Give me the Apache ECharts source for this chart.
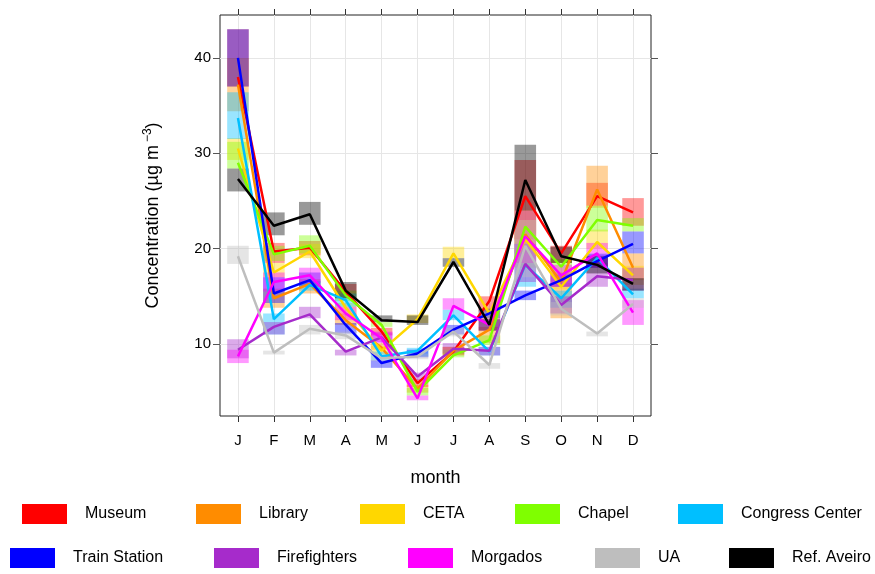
<!DOCTYPE html>
<html>
<head>
<meta charset="utf-8">
<script src="https://cdn.jsdelivr.net/npm/echarts@6/dist/echarts.min.js"></script>
<style>
html,body{margin:0;padding:0;background:#fff;}
#chart{width:875px;height:574px;}
</style>
</head>
<body>
<div id="chart"></div>
<script>
// ---- data ----
const months = ['J','F','M','A','M','J','J','A','S','O','N','D'];
const yTicks = [10, 20, 30, 40];

const siteNames = ['Museum','Library','CETA','Chapel','Congress Center','Train Station','Firefighters','Morgados','UA','Ref. Aveiro'];
const siteColors = ['#FF0000','#FF8C00','#FFD700','#7FFF00','#00BFFF','#0000FF','#A62BCB','#FF00FF','#BEBEBE','#000000'];

// means
const museum       = [38.0, 19.7, 20.1, 15.5, 11.3, 5.9, 9.2, 14.5, 25.5, 19.5, 25.5, 23.8];
const library      = [37.2, 14.8, 16.3, 12.5, 9.6, 5.3, 9.3, 11.5, 21.5, 16.5, 26.2, 18.0];
const ceta         = [30.5, 17.5, 19.7, 13.8, 9.3, 12.6, 19.5, 13.2, 21.0, 16.0, 20.7, 17.2];
const chapel       = [29.0, 19.4, 20.3, 15.1, 12.0, 5.0, 8.8, 10.4, 22.3, 18.1, 23.0, 22.4];
const congress     = [33.7, 12.6, 16.2, 14.6, 8.7, 9.3, 13.0, 9.2, 18.3, 14.8, 19.0, 15.2];
const trainStation = [40.0, 15.3, 16.7, 12.0, 8.0, 9.0, 11.5, 13.2, 15.1, 16.7, 18.7, 20.5];
const firefighters = [9.4, 11.8, 13.1, 9.2, 10.7, 6.6, 9.5, 9.3, 18.4, 14.1, 17.1, 16.7];
const morgados     = [8.7, 16.5, 17.2, 13.2, 10.6, 4.3, 14.0, 12.0, 21.3, 17.2, 19.5, 13.3];
const ua           = [19.2, 9.1, 11.6, 10.9, 8.5, 8.7, 11.3, 7.8, 20.3, 13.7, 11.1, 14.2];
const refAveiro    = [27.3, 22.4, 23.6, 15.6, 12.5, 12.3, 18.6, 12.0, 27.2, 19.2, 18.3, 16.3];

// confidence interval lower / upper
const museumLo       = [37.0, 18.5, 19.3, 14.8, 10.9, 5.5, 8.8, 13.4, 21.0, 18.5, 24.5, 22.4];
const museumHi       = [43.0, 20.6, 20.8, 16.3, 11.7, 6.3, 9.7, 15.0, 29.3, 20.3, 26.9, 25.3];
const libraryLo      = [34.4, 13.8, 15.3, 12.0, 9.4, 4.9, 8.9, 10.1, 18.5, 12.7, 24.3, 16.7];
const libraryHi      = [40.0, 15.8, 16.8, 13.2, 10.1, 5.7, 9.7, 11.8, 24.0, 17.5, 28.7, 19.5];
const cetaLo         = [29.3, 17.0, 19.0, 13.0, 8.9, 12.2, 19.0, 12.6, 18.0, 15.7, 20.0, 16.2];
const cetaHi         = [31.6, 18.5, 20.5, 14.3, 9.8, 13.1, 20.2, 13.8, 23.0, 16.4, 22.0, 18.2];
const chapelLo       = [28.4, 18.7, 19.5, 14.5, 11.8, 4.6, 8.6, 9.9, 19.5, 17.3, 21.8, 21.8];
const chapelHi       = [31.2, 20.3, 21.4, 15.6, 12.3, 5.4, 9.4, 10.9, 24.0, 18.9, 24.5, 23.2];
const congressLo     = [31.5, 11.0, 15.6, 13.9, 8.3, 8.7, 12.5, 8.8, 16.0, 13.8, 18.0, 14.8];
const congressHi     = [36.4, 13.2, 16.6, 15.3, 9.2, 9.6, 13.6, 9.7, 20.5, 15.6, 19.5, 15.8];
const trainLo        = [37.0, 14.3, 16.0, 11.1, 7.5, 8.6, 11.0, 12.7, 14.6, 16.0, 18.0, 19.5];
const trainHi        = [43.0, 17.0, 17.5, 12.2, 8.3, 9.4, 12.0, 13.7, 15.6, 17.3, 19.4, 21.8];
const firefightersLo = [8.5, 11.0, 12.7, 8.8, 10.2, 6.2, 9.0, 8.8, 16.5, 13.2, 16.0, 15.6];
const firefightersHi = [10.5, 12.3, 13.9, 9.4, 11.2, 7.0, 10.1, 9.7, 20.5, 15.0, 18.5, 18.0];
const morgadosLo     = [8.0, 15.5, 16.4, 12.5, 10.1, 4.1, 13.6, 11.4, 18.5, 16.0, 18.0, 12.0];
const morgadosHi     = [9.4, 17.5, 18.0, 13.9, 11.3, 4.6, 14.8, 12.7, 24.0, 18.3, 20.6, 14.6];
const uaLo           = [18.4, 8.9, 11.0, 10.5, 8.2, 8.4, 10.8, 7.4, 17.0, 13.0, 10.8, 13.8];
const uaHi           = [20.3, 9.3, 12.0, 11.3, 8.8, 9.0, 11.7, 8.0, 23.0, 14.4, 11.3, 14.8];
const refAveiroLo    = [26.0, 21.4, 22.5, 14.8, 12.3, 12.0, 18.1, 11.4, 24.0, 18.5, 17.4, 15.6];
const refAveiroHi    = [28.4, 23.8, 24.9, 16.5, 13.0, 13.0, 19.0, 12.6, 30.9, 20.2, 19.2, 16.9];

const means = [museum, library, ceta, chapel, congress, trainStation, firefighters, morgados, ua, refAveiro];
const lows  = [museumLo, libraryLo, cetaLo, chapelLo, congressLo, trainLo, firefightersLo, morgadosLo, uaLo, refAveiroLo];
const highs = [museumHi, libraryHi, cetaHi, chapelHi, congressHi, trainHi, firefightersHi, morgadosHi, uaHi, refAveiroHi];

// legend layout (icon left, row)
const legendLeft = [22, 196, 360, 515, 678, 10, 214, 408, 595, 729];
const legendTop  = [504, 504, 504, 504, 504, 548, 548, 548, 548, 548];

const FONT = '"Liberation Sans", Arial, sans-serif';

function hexToRgba(hex, a){
  const n = parseInt(hex.slice(1), 16);
  return 'rgba(' + ((n>>16)&255) + ',' + ((n>>8)&255) + ',' + (n&255) + ',' + a + ')';
}

const chart = echarts.init(document.getElementById('chart'), null, {renderer:'canvas'});

const series = [];
siteNames.forEach((name, k) => {
  const fill = hexToRgba(siteColors[k], 0.4);
  series.push({
    name: name,
    type: 'custom',
    xAxisIndex: 0, yAxisIndex: 0,
    z: 2,
    silent: true,
    data: months.map((m, i) => [i, lows[k][i], highs[k][i]]),
    renderItem: function(params, api){
      const x = api.value(0);
      const top = api.coord([x, api.value(2)]);
      const bot = api.coord([x, api.value(1)]);
      const w = api.size([1, 0])[0] * 0.6;
      return {
        type: 'rect',
        shape: {x: top[0] - w/2, y: top[1], width: w, height: bot[1] - top[1]},
        style: {fill: fill}
      };
    }
  });
});
siteNames.forEach((name, k) => {
  series.push({
    name: name,
    type: 'line',
    xAxisIndex: 0, yAxisIndex: 0,
    z: 3,
    data: means[k],
    symbol: 'none',
    silent: true,
    lineStyle: {color: siteColors[k], width: 2.5},
    itemStyle: {color: siteColors[k]}
  });
});

const legends = siteNames.map((name, k) => ({
  data: [{name: name, icon: 'rect', itemStyle: {color: siteColors[k]}}],
  left: legendLeft[k],
  top: legendTop[k],
  padding: 0,
  itemWidth: 45,
  itemHeight: 20,
  selectedMode: false,
  textStyle: {fontFamily: FONT, fontSize: 16, color: '#000', padding: [2, 0, 0, 13]}
}));

const yMin = 2.45, yMax = 44.5;

const option = {
  animation: false,
  backgroundColor: '#fff',
  grid: {left: 220, top: 15, width: 431, height: 401, show: true, borderColor: '#222', borderWidth: 1, backgroundColor: 'transparent'},
  legend: legends,
  xAxis: [{
    type: 'category',
    position: 'bottom',
    data: months,
    boundaryGap: true,
    axisLine: {show: false},
    axisTick: {show: true, alignWithLabel: true, length: 6, lineStyle: {color: '#333'}},
    axisLabel: {fontFamily: FONT, fontSize: 15, color: '#000', margin: 17},
    splitLine: {show: true, alignWithLabel: true, lineStyle: {color: '#e6e6e6', width: 1}},
    name: 'month',
    nameLocation: 'middle',
    nameGap: 53,
    nameTextStyle: {fontFamily: FONT, fontSize: 18, color: '#000'}
  }, {
    type: 'category',
    position: 'top',
    data: months,
    boundaryGap: true,
    axisLine: {show: false},
    axisTick: {show: true, alignWithLabel: true, length: 6, lineStyle: {color: '#333'}},
    axisLabel: {show: false},
    splitLine: {show: false}
  }],
  yAxis: [{
    type: 'value',
    position: 'left',
    min: yMin, max: yMax,
    splitNumber: 4,
    axisLine: {show: false},
    axisTick: {show: true, length: 7, customValues: yTicks, lineStyle: {color: '#555'}},
    axisLabel: {fontFamily: FONT, fontSize: 15, color: '#000', margin: 9, customValues: yTicks,
      formatter: v => (yTicks.indexOf(Math.round(v*1000)/1000) >= 0 ? String(v) : '')},
    splitLine: {show: true, lineStyle: {color: '#e6e6e6', width: 1}},
    name: 'Concentration (µg m{sup|−3})',
    nameLocation: 'middle',
    nameGap: 56,
    nameRotate: 90,
    nameTextStyle: {fontFamily: FONT, fontSize: 18, color: '#000',
      rich: {sup: {fontFamily: FONT, fontSize: 12, color: '#000', verticalAlign: 'top', padding: [0, 0, 10, 3]}}}
  }, {
    type: 'value',
    position: 'right',
    min: yMin, max: yMax,
    splitNumber: 4,
    axisLine: {show: false},
    axisTick: {show: true, length: 7, customValues: yTicks, lineStyle: {color: '#555'}},
    axisLabel: {show: false},
    splitLine: {show: false}
  }],
  series: series
};

chart.setOption(option);
</script>
</body>
</html>
